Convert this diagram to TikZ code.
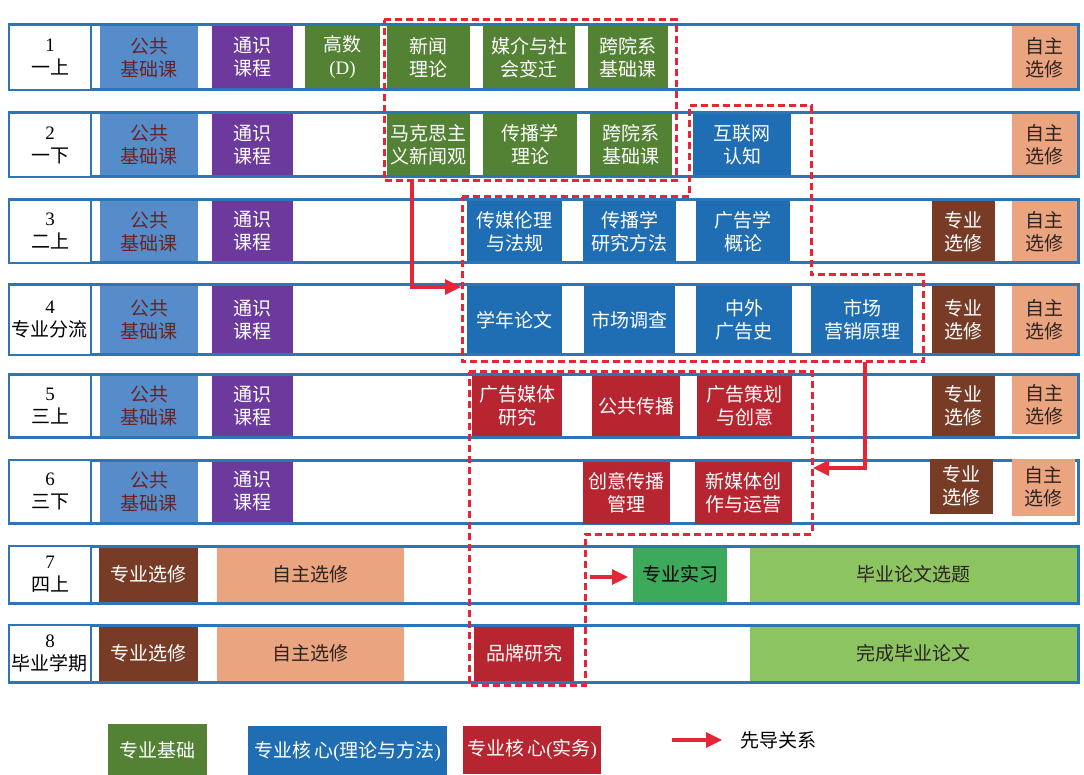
\documentclass[tikz,border=0pt]{standalone}
\usepackage{fontspec}
\setmainfont{Liberation Serif}
\newfontfamily\cjk{Noto Sans CJK SC}
\usetikzlibrary{arrows.meta}
\definecolor{cgong}{RGB}{86,140,202}
\definecolor{cgongtext}{RGB}{105,35,38}
\definecolor{cpurple}{RGB}{108,58,156}
\definecolor{cgreen}{RGB}{84,130,53}
\definecolor{cblue}{RGB}{31,110,180}
\definecolor{cred}{RGB}{183,38,48}
\definecolor{cbrown}{RGB}{120,60,38}
\definecolor{csalmon}{RGB}{234,164,128}
\definecolor{cdark}{RGB}{45,35,30}
\definecolor{cintern}{RGB}{60,170,90}
\definecolor{clgreen}{RGB}{140,196,98}
\definecolor{crow}{RGB}{46,117,182}
\definecolor{cdash}{RGB}{228,38,55}
\tikzset{
  cellbox/.style={inner sep=0pt, outer sep=0pt, align=center, font=\cjk\fontsize{19}{23}\selectfont, text=white},
  gong/.style={fill=cgong, text=cgongtext},
  tong/.style={fill=cpurple},
  jichu/.style={fill=cgreen},
  hexin/.style={fill=cblue},
  shiwu/.style={fill=cred},
  zhuanxuan/.style={fill=cbrown},
  zizhu/.style={fill=csalmon, text=cdark},
  shixi/.style={fill=cintern, text=black},
  lunwen/.style={fill=clgreen, text=cdark},
  rowrect/.style={draw=crow, line width=3pt, fill=white, inner sep=0pt, outer sep=0pt},
  labelcell/.style={draw=crow, line width=2.5pt, fill=white, inner sep=0pt, outer sep=0pt, align=center, text=black, font=\cjk\fontsize{19}{23}\selectfont},
  dashbox/.style={draw=cdash, line width=3pt, dash pattern=on 7pt off 4pt},
  leadarrow/.style={draw=cdash, line width=3.2pt, -{Triangle[length=16pt,width=15pt]}},
}
% box: name, style, x1, y1, x2, y2, text
\newcommand{\cb}[7]{\node[cellbox,#2,minimum width={(#5)-(#3)},minimum height={(#6)-(#4)-3}] (#1) at ({((#3)+(#5))/2},{((#4)+(#6))/2}) {#7};}
% row: name, y1, y2, label
\newcommand{\semrow}[4]{%
  \node[rowrect, minimum width=1069, minimum height={(#3)-(#2)}] (row#1) at (543.5,{((#2)+(#3))/2}) {};
  \node[labelcell, minimum width=82, minimum height={(#3)-(#2)}] (lab#1) at (50,{((#2)+(#3))/2}) {#4};}
\begin{document}
\begin{tikzpicture}[x=1pt,y=-1pt]
\fill[white] (0,0) rectangle (1084,775);
\useasboundingbox (0,0) rectangle (1084,775);

\semrow{1}{25}{90}{{\rmfamily 1}\\一上}
\semrow{2}{113}{177}{{\rmfamily 2}\\一下}
\semrow{3}{200}{263}{{\rmfamily 3}\\二上}
\semrow{4}{285}{355}{{\rmfamily 4}\\专业分流}
\semrow{5}{375}{437}{{\rmfamily 5}\\三上}
\semrow{6}{460}{523}{{\rmfamily 6}\\三下}
\semrow{7}{546}{603}{{\rmfamily 7}\\四上}
\semrow{8}{625}{682}{{\rmfamily 8}\\毕业学期}

% row 1
\cb{g1}{gong}{100}{25}{198}{90}{公共\\基础课}
\cb{t1}{tong}{212}{25}{293}{90}{通识\\课程}
\cb{gs}{jichu}{305}{25}{380}{90}{高数\\{\rmfamily (D)}}
\cb{xwll}{jichu}{387}{25}{470}{90}{新闻\\理论}
\cb{mjsh}{jichu}{483}{25}{575}{90}{媒介与社\\会变迁}
\cb{kyx1}{jichu}{588}{25}{668}{90}{跨院系\\基础课}
\cb{zz1}{zizhu}{1012}{25}{1077}{90}{自主\\选修}
% row 2
\cb{g2}{gong}{100}{113}{198}{177}{公共\\基础课}
\cb{t2}{tong}{212}{113}{293}{177}{通识\\课程}
\cb{mkx}{jichu}{387}{113}{470}{177}{马克思主\\义新闻观}
\cb{cbxll}{jichu}{483}{113}{577}{177}{传播学\\理论}
\cb{kyx2}{jichu}{590}{113}{672}{177}{跨院系\\基础课}
\cb{hlw}{hexin}{693}{113}{791}{177}{互联网\\认知}
\cb{zz2}{zizhu}{1012}{113}{1077}{177}{自主\\选修}
% row 3
\cb{g3}{gong}{100}{200}{198}{263}{公共\\基础课}
\cb{t3}{tong}{212}{200}{293}{263}{通识\\课程}
\cb{cmll}{hexin}{467}{200}{562}{263}{传媒伦理\\与法规}
\cb{cbff}{hexin}{583}{200}{676}{263}{传播学\\研究方法}
\cb{ggxgl}{hexin}{696}{200}{790}{263}{广告学\\概论}
\cb{zx3}{zhuanxuan}{932}{200}{995}{263}{专业\\选修}
\cb{zz3}{zizhu}{1012}{200}{1077}{263}{自主\\选修}
% row 4
\cb{g4}{gong}{100}{285}{198}{355}{公共\\基础课}
\cb{t4}{tong}{212}{285}{293}{355}{通识\\课程}
\cb{xnlw}{hexin}{467}{285}{562}{355}{学年论文}
\cb{scdc}{hexin}{584}{285}{675}{355}{市场调查}
\cb{zwgg}{hexin}{696}{285}{792}{355}{中外\\广告史}
\cb{scyx}{hexin}{811}{285}{913}{355}{市场\\营销原理}
\cb{zx4}{zhuanxuan}{932}{285}{995}{355}{专业\\选修}
\cb{zz4}{zizhu}{1012}{285}{1077}{355}{自主\\选修}
% row 5
\cb{g5}{gong}{100}{375}{198}{437}{公共\\基础课}
\cb{t5}{tong}{212}{375}{293}{437}{通识\\课程}
\cb{ggmt}{shiwu}{472}{375}{562}{437}{广告媒体\\研究}
\cb{ggcb}{shiwu}{592}{375}{680}{437}{公共传播}
\cb{ggch}{shiwu}{697}{375}{792}{437}{广告策划\\与创意}
\cb{zx5}{zhuanxuan}{932}{375}{995}{437}{专业\\选修}
\cb{zz5}{zizhu}{1012}{375}{1077}{435}{自主\\选修}
% row 6
\cb{g6}{gong}{100}{460}{198}{523}{公共\\基础课}
\cb{t6}{tong}{212}{460}{293}{523}{通识\\课程}
\cb{cygl}{shiwu}{583}{460}{670}{525}{创意传播\\管理}
\cb{xmt}{shiwu}{695}{460}{792}{525}{新媒体创\\作与运营}
\cb{zx6}{zhuanxuan}{930}{457}{993}{515}{专业\\选修}
\cb{zz6}{zizhu}{1012}{457}{1075}{517}{自主\\选修}
% row 7
\cb{zx7}{zhuanxuan}{99}{546}{198}{603}{专业选修}
\cb{zz7}{zizhu}{217}{546}{404}{603}{自主选修}
\cb{sx}{shixi}{633}{546}{727}{603}{专业实习}
\cb{xt}{lunwen}{750}{546}{1077}{603}{毕业论文选题}
% row 8
\cb{zx8}{zhuanxuan}{99}{625}{198}{682}{专业选修}
\cb{zz8}{zizhu}{217}{625}{404}{682}{自主选修}
\cb{ppyj}{shiwu}{474}{625}{574}{682}{品牌研究}
\cb{wc}{lunwen}{750}{625}{1077}{682}{完成毕业论文}

% dashed groups
\coordinate (p1a) at (384,20); \coordinate (p1b) at (676,20);
\coordinate (p1c) at (676,181); \coordinate (p1d) at (384,181);
\draw[dashbox] (p1a) -- (p1b) -- (p1c) -- (p1d) -- cycle;

\coordinate (p2a) at (462,197); \coordinate (p2b) at (689,197);
\coordinate (p2c) at (689,106); \coordinate (p2d) at (811,106);
\coordinate (p2e) at (811,275); \coordinate (p2f) at (923,275);
\coordinate (p2g) at (923,362); \coordinate (p2h) at (462,362);
\draw[dashbox] (p2a) -- (p2b) -- (p2c) -- (p2d) -- (p2e) -- (p2f) -- (p2g) -- (p2h) -- cycle;

\coordinate (p3a) at (469,372); \coordinate (p3b) at (812,372);
\coordinate (p3c) at (812,534); \coordinate (p3d) at (585,534);
\coordinate (p3e) at (585,685); \coordinate (p3f) at (469,685);
\draw[dashbox] (p3a) -- (p3b) -- (p3c) -- (p3d) -- (p3e) -- (p3f) -- cycle;

% precedence arrows
\coordinate (a1s) at (412,181); \coordinate (a1e) at (461,287);
\draw[leadarrow] (a1s) |- (a1e);
\coordinate (a2s) at (865,362); \coordinate (a2e) at (813,468);
\draw[leadarrow] (a2s) |- (a2e);
\coordinate (a3s) at (590,577); \coordinate (a3e) at (628,577);
\draw[leadarrow] (a3s) -- (a3e);

% legend
\cb{lg1}{jichu}{108}{722}{207}{778}{专业基础}
\cb{lg2}{hexin}{248}{724}{447}{778}{专业核\,心{\rmfamily(}理论与方法{\rmfamily)}}
\cb{lg3}{shiwu}{463}{724}{601}{775}{专业核\,心{\rmfamily(}实务{\rmfamily)}}
\coordinate (lgs) at (672,740);
\node[cellbox, text=black, anchor=west] (lgt) at (740,740) {先导关系};
\draw[leadarrow] (lgs) -- ([xshift=-18pt]lgt.west);
\end{tikzpicture}
\end{document}
